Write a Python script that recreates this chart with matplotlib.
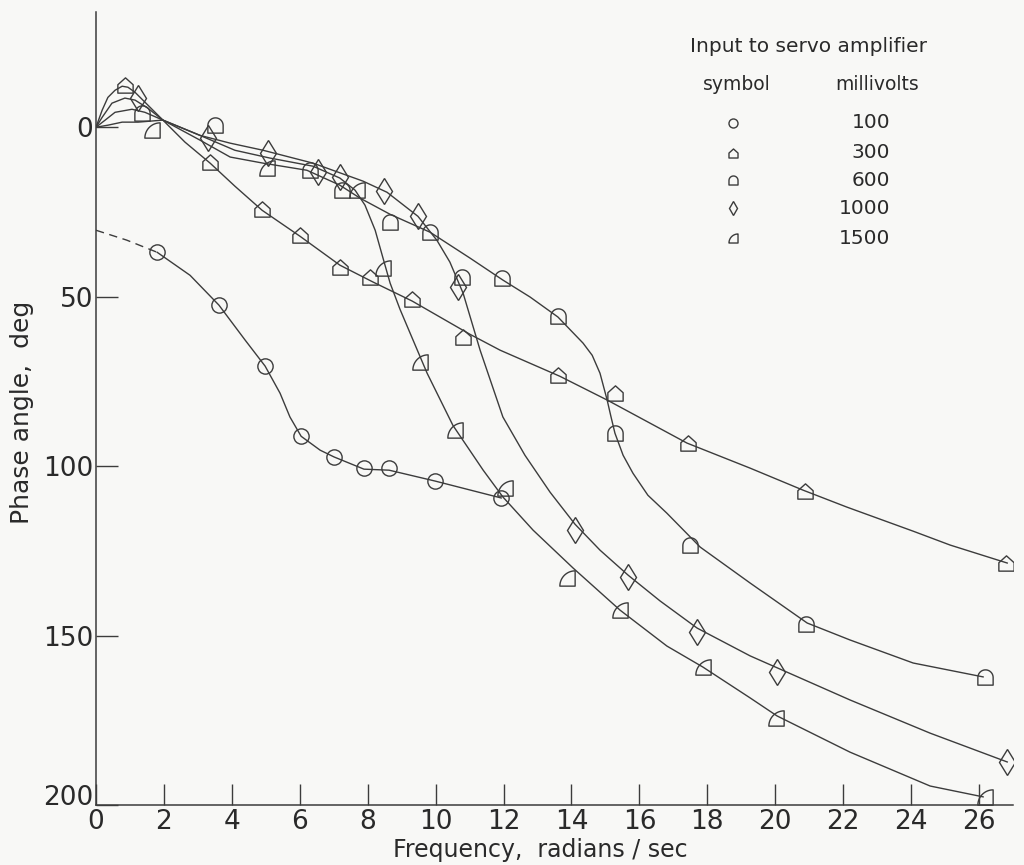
import numpy as np
import matplotlib.pyplot as plt
from matplotlib.path import Path

# ---- traced curves and plotted points (frequency rad/s, phase angle deg) ----
# 100 mV (circle)
c100_dash_x = [0.0, 0.9, 1.8]
c100_dash_y = [30.4, 33.3, 36.9]
c100_x = [1.80, 2.77, 3.62, 4.39, 4.98, 5.42, 5.71, 6.04, 6.60, 7.01, 7.89, 8.63, 9.98, 11.93]
c100_y = [36.9, 43.7, 52.5, 62.8, 70.5, 78.5, 85.5, 91.2, 95.3, 97.3, 100.9, 101.2, 104.4, 109.4]
p100_x = [1.80, 3.62, 4.98, 6.04, 7.01, 7.90, 8.63, 9.98, 11.93]
p100_y = [36.9, 52.5, 70.5, 91.2, 97.3, 100.6, 100.6, 104.4, 109.4]

# 300 mV (house)
c300_x = [0.0, 0.18, 0.35, 0.56, 0.77, 0.94, 1.15, 1.44, 1.97, 2.62, 3.36, 4.09, 4.89, 6.01,
          7.18, 8.16, 9.31, 11.01, 11.90, 13.66, 15.05, 17.40, 19.26, 20.82, 22.11, 24.06,
          25.15, 26.83]
c300_y = [0.0, -5.0, -8.8, -10.9, -12.1, -11.8, -10.3, -7.4, -2.1, 4.4, 10.6, 17.4, 24.5, 32.2,
          40.7, 45.7, 51.3, 61.1, 65.8, 73.5, 80.5, 93.2, 100.6, 107.1, 112.1, 119.2,
          123.3, 128.6]
p300_x = [0.85, 3.36, 4.89, 6.01, 7.18, 8.07, 9.31, 10.81, 13.60, 15.28, 17.43, 20.88, 26.80]
p300_y = [-12.4, 10.3, 24.2, 31.9, 41.3, 44.2, 50.7, 62.0, 73.2, 78.5, 93.2, 107.4, 128.6]

# 600 mV (rounded top)
c600_x = [0.0, 0.27, 0.56, 1.06, 1.44, 1.97, 3.06, 3.95, 4.92, 6.21, 7.18, 7.77, 8.66, 9.84,
          11.01, 11.98, 12.78, 13.60, 14.34, 14.61, 14.84, 15.05, 15.16, 15.28, 15.52, 15.81,
          16.25, 16.81, 17.79, 19.26, 20.94, 22.20, 24.06, 26.12]
c600_y = [0.0, -2.1, -4.4, -5.3, -4.4, -2.1, 3.8, 8.8, 10.6, 12.7, 17.1, 20.9, 25.7, 31.0,
          38.6, 45.1, 50.1, 56.0, 63.7, 67.3, 72.6, 80.5, 85.3, 90.3, 96.8, 102.1,
          108.6, 113.9, 123.9, 134.5, 146.3, 151.3, 158.1, 162.2]
p600_x = [1.35, 3.50, 6.30, 7.24, 8.66, 9.84, 10.78, 11.96, 13.60, 15.28, 17.49, 20.91, 26.18]
p600_y = [-4.1, -0.6, 12.7, 18.6, 28.0, 31.0, 44.2, 44.5, 55.8, 90.3, 123.3, 146.6, 162.2]

# 1000 mV (diamond)
c1000_x = [0.0, 0.18, 0.47, 0.85, 1.15, 1.53, 1.97, 3.06, 3.95, 4.92, 6.39, 7.86, 8.57, 9.48,
           10.04, 10.42, 10.81, 11.31, 11.98, 12.63, 13.37, 14.10, 14.84, 15.67, 16.61,
           17.70, 19.26, 20.73, 22.20, 24.56, 26.83]
c1000_y = [0.0, -2.9, -7.1, -8.6, -8.0, -5.6, -2.1, 2.4, 4.7, 6.8, 10.6, 15.9, 19.2, 26.3,
           33.4, 39.8, 49.0, 65.8, 85.5, 96.8, 107.7, 117.1, 124.8, 132.2, 139.8,
           147.8, 156.0, 162.5, 169.0, 178.8, 187.3]
p1000_x = [1.24, 3.30, 5.06, 6.54, 7.18, 8.48, 9.48, 10.66, 14.10, 15.67, 17.70, 20.05, 26.83]
p1000_y = [-8.6, 3.2, 7.7, 13.3, 14.7, 18.9, 26.3, 47.2, 118.9, 132.7, 149.0, 160.8, 187.3]

# 1500 mV (quarter circle)
c1500_x = [0.0, 0.35, 0.77, 1.24, 1.97, 3.06, 4.09, 5.12, 6.39, 7.18, 7.63, 7.92, 8.22, 8.45,
           8.66, 8.95, 9.25, 9.75, 10.51, 11.40, 11.98, 12.87, 14.05, 15.43, 16.81, 17.87,
           19.26, 20.05, 22.20, 24.56, 26.12]
c1500_y = [0.0, -0.6, -1.5, -1.5, -2.1, 2.4, 6.8, 9.1, 11.5, 15.0, 18.6, 23.0, 30.4, 38.6,
           46.0, 53.7, 60.8, 72.6, 88.0, 101.2, 109.1, 118.9, 130.1, 142.5, 153.1, 159.3,
           168.4, 173.7, 184.4, 194.4, 197.6]
p1500_x = [1.65, 5.04, 7.69, 8.45, 9.54, 10.57, 12.04, 13.87, 15.43, 17.87, 20.02, 26.18]
p1500_y = [0.9, 12.1, 18.6, 41.6, 69.3, 89.4, 106.5, 133.0, 142.5, 159.3, 174.3, 197.6]

legend_mv = ['100', '300', '600', '1000', '1500']


# ---- custom marker shapes ----
def closed_path(pts):
    pts = list(pts) + [pts[0]]
    codes = [Path.MOVETO] + [Path.LINETO] * (len(pts) - 2) + [Path.CLOSEPOLY]
    return Path(pts, codes)


def arc_pts(cx, cy, r, a0, a1, n=18):
    t = np.radians(np.linspace(a0, a1, n))
    return list(zip(cx + r * np.cos(t), cy + r * np.sin(t)))


m_house = closed_path([(-1, -1), (1, -1), (1, 0.1), (0, 1), (-1, 0.1)])
m_dome = closed_path([(-1, -1), (1, -1)] + arc_pts(0, 0, 1, 0, 180))
m_quarter = closed_path([(-1, -1), (1, -1), (1, 1)] + arc_pts(1, -1, 2, 90, 180)[1:-1])

ink = '#3c3c3c'
txt = '#2a2a2a'
bg = '#f8f8f6'

plt.rcParams['font.family'] = ['DejaVu Sans']

fig = plt.figure(figsize=(10.24, 8.65), dpi=100, facecolor=bg)
ax = fig.add_axes([96 / 1024, 1 - 805 / 865, 917 / 1024, 793 / 865])
ax.set_facecolor(bg)

series = [
    (c300_x, c300_y, p300_x, p300_y, m_house, 11),
    (c600_x, c600_y, p600_x, p600_y, m_dome, 11),
    (c1000_x, c1000_y, p1000_x, p1000_y, 'd', 13),
    (c1500_x, c1500_y, p1500_x, p1500_y, m_quarter, 11),
    (c100_x, c100_y, p100_x, p100_y, 'o', 11),
]
for cx, cy, px, py, mk, ms in series:
    ax.plot(cx, cy, color=ink, lw=1.0, solid_joinstyle='round')
    ax.plot(px, py, ls='none', marker=mk, ms=ms, mfc='none', mec=ink, mew=1.0)

ax.plot(c100_dash_x, c100_dash_y, color=ink, lw=1.0, ls=(0, (6, 4)))

ax.set_xlim(0, 27)
ax.set_ylim(200, -34)
ax.set_xticks(range(0, 27, 2))
ax.set_yticks([0, 50, 100, 150, 200])
for s in ['top', 'right']:
    ax.spines[s].set_visible(False)
for s in ['left', 'bottom']:
    ax.spines[s].set_color(ink)
    ax.spines[s].set_linewidth(1.1)
ax.tick_params(axis='x', direction='in', length=15, width=1.0, color=ink,
               labelsize=19, labelcolor=txt, pad=3)
ax.tick_params(axis='y', direction='in', length=16, width=1.0, color=ink,
               labelsize=19, labelcolor=txt, pad=2)
# the "200" label sits on the frequency axis, clear of the "0" below it
ax.get_yticklabels()[-1].set_va('baseline')

ax.set_xlabel('Frequency,  radians / sec', fontsize=17, color=txt, va='center')
ax.set_ylabel('Phase angle,  deg', fontsize=18, color=txt, va='center')
ax.xaxis.set_label_coords((540 - 96) / 917, -(850 - 805) / 793)
ax.yaxis.set_label_coords(-(96 - 22) / 917, (805 - 412) / 793)

# legend block
fig.text(808 / 1024, 1 - 47 / 865, 'Input to servo amplifier', fontsize=14.5,
         color=txt, ha='center', va='center')
fig.text(737 / 1024, 1 - 85 / 865, 'symbol', fontsize=13.5, color=txt,
         ha='center', va='center')
fig.text(877 / 1024, 1 - 85 / 865, 'millivolts', fontsize=13.5, color=txt,
         ha='center', va='center')
leg_marks = ['o', m_house, m_dome, 'd', m_quarter]
leg_rows = [123, 153, 180, 208, 238]
for mv, mk, row in zip(legend_mv, leg_marks, leg_rows):
    ax.plot([733 / 1024], [1 - row / 865], transform=fig.transFigure, clip_on=False,
            marker=mk, ms=7.5 if mk == 'd' else 6.5, mfc='none', mec=ink, mew=1.0)
    fig.text(890 / 1024, 1 - row / 865, mv, fontsize=14.5, color=txt,
             ha='right', va='center')

fig.savefig('out.png', dpi=100, facecolor=bg)
